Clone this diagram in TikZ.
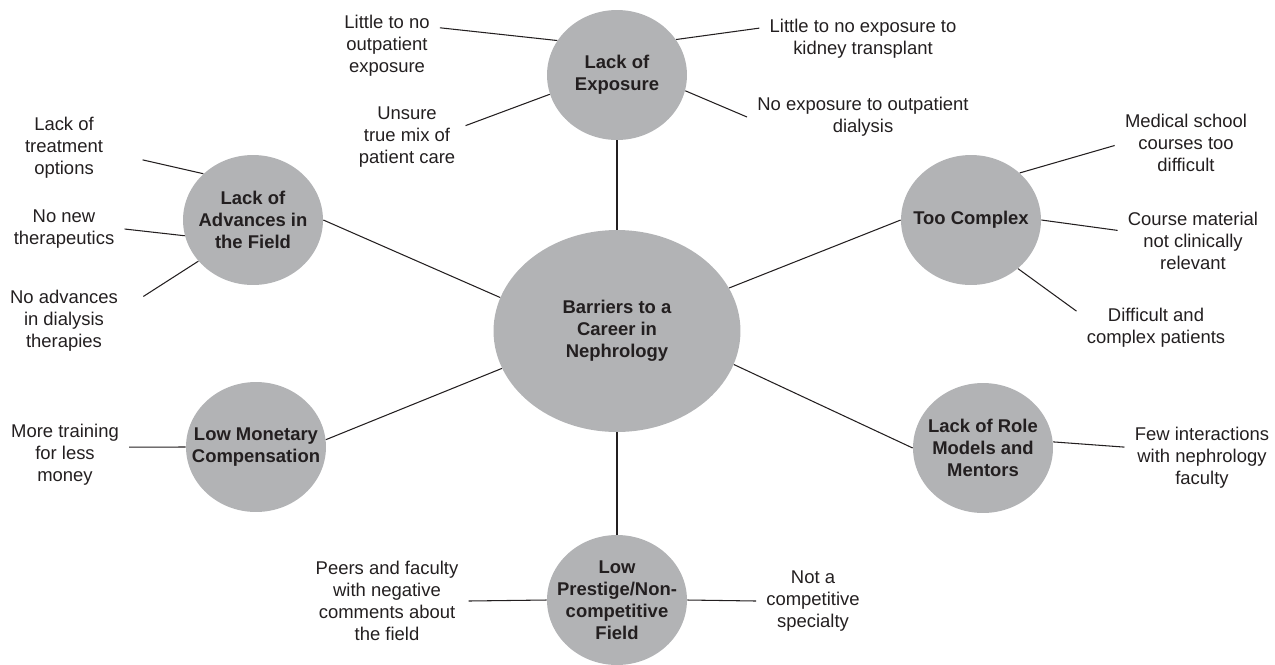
\documentclass[tikz,border=0pt]{standalone}
\usepackage{fontspec}
\setmainfont{Liberation Sans}
\usetikzlibrary{shapes.geometric}
\definecolor{blobgray}{RGB}{178,179,181}
\definecolor{inkgray}{RGB}{35,31,32}

\begin{document}
\begin{tikzpicture}[x=0.02cm, y=-0.02cm,
        blob/.style={ellipse, fill=blobgray, inner sep=0pt, minimum width=2.8cm, minimum height=2.6cm},
        head/.style={align=center, text=inkgray, font=\fontsize{10.5}{12.5}\selectfont\bfseries},
        note/.style={align=center, inner sep=0.2cm, text=inkgray, font=\fontsize{10.5}{12.5}\selectfont},
        spoke/.style={draw=inkgray, line width=0.6pt}]
        \useasboundingbox (0,0) rectangle (1275,664);
        \node[blob, minimum width=4.94cm, minimum height=4.04cm, label={[head]center:Barriers to a\\Career in\\Nephrology}] (centre) at (617,331) {};
        \node[blob, label={[head]center:Lack of\\Exposure}] (expo) at (617,75) {};
        \node[blob, label={[head]center:Lack of\\Advances in\\the Field}] (adv) at (253,220) {};
        \node[blob, label={[head]center:Low Monetary\\Compensation}] (money) at (256,447) {};
        \node[blob, label={[head]center:Too Complex}] (cplx) at (971,220) {};
        \node[blob, label={[head]center:Lack of Role\\Models and\\Mentors}] (role) at (983,448) {};
        \node[blob, label={[head]center:Low\\Prestige/Non-\\competitive\\Field}] (prest) at (617,600) {};
        \node[note] (outpat) at (387,46) {Little to no\\outpatient\\exposure};
        \node[note] (kidney) at (863,39) {Little to no exposure to\\kidney transplant};
        \node[note] (mix) at (407,137) {Unsure\\true mix of\\patient care};
        \node[note] (dialysis) at (863,117) {No exposure to outpatient\\dialysis};
        \node[note] (options) at (64,148) {Lack of\\treatment\\options};
        \node[note] (thera) at (64,229) {No new\\therapeutics};
        \node[note] (noadv) at (64,321) {No advances\\in dialysis\\therapies};
        \node[note] (less) at (65,455) {More training\\for less\\money};
        \node[note] (courses) at (1186,143) {Medical school\\courses too\\difficult};
        \node[note] (material) at (1193,241) {Course material\\not clinically\\relevant};
        \node[note] (patients) at (1156,328) {Difficult and\\complex patients};
        \node[note] (faculty) at (1202,458) {Few interactions\\with nephrology\\faculty};
        \node[note] (peers) at (387,601) {Peers and faculty\\with negative\\comments about\\the field};
        \node[note] (special) at (813,601) {Not a\\competitive\\specialty};
        \foreach \a/\b in {expo.270/centre.90, adv.0/centre.164, money.6/centre.198, cplx.180/centre.21, role.180/centre.344, prest.90/centre.270}
        \draw[spoke] (\a) -- (\b);
        \foreach \a/\b in {expo.150/outpat.19, expo.31/kidney.174, expo.196/mix.11, expo.347/dialysis.west, adv.193/thera.east, money.180/less.7, cplx.44/courses.182, cplx.0/material.172, cplx.314/patients.168, role.5/faculty.172, prest.180/peers.east, prest.0/special.west}
        \draw[spoke] (\a) -- (\b);
        \draw[spoke, shorten >=0.6cm] (adv.137) -- (options.354);
        \draw[spoke, shorten >=0.36cm] (adv.217) -- (noadv.13);
      \end{tikzpicture}
\end{document}
